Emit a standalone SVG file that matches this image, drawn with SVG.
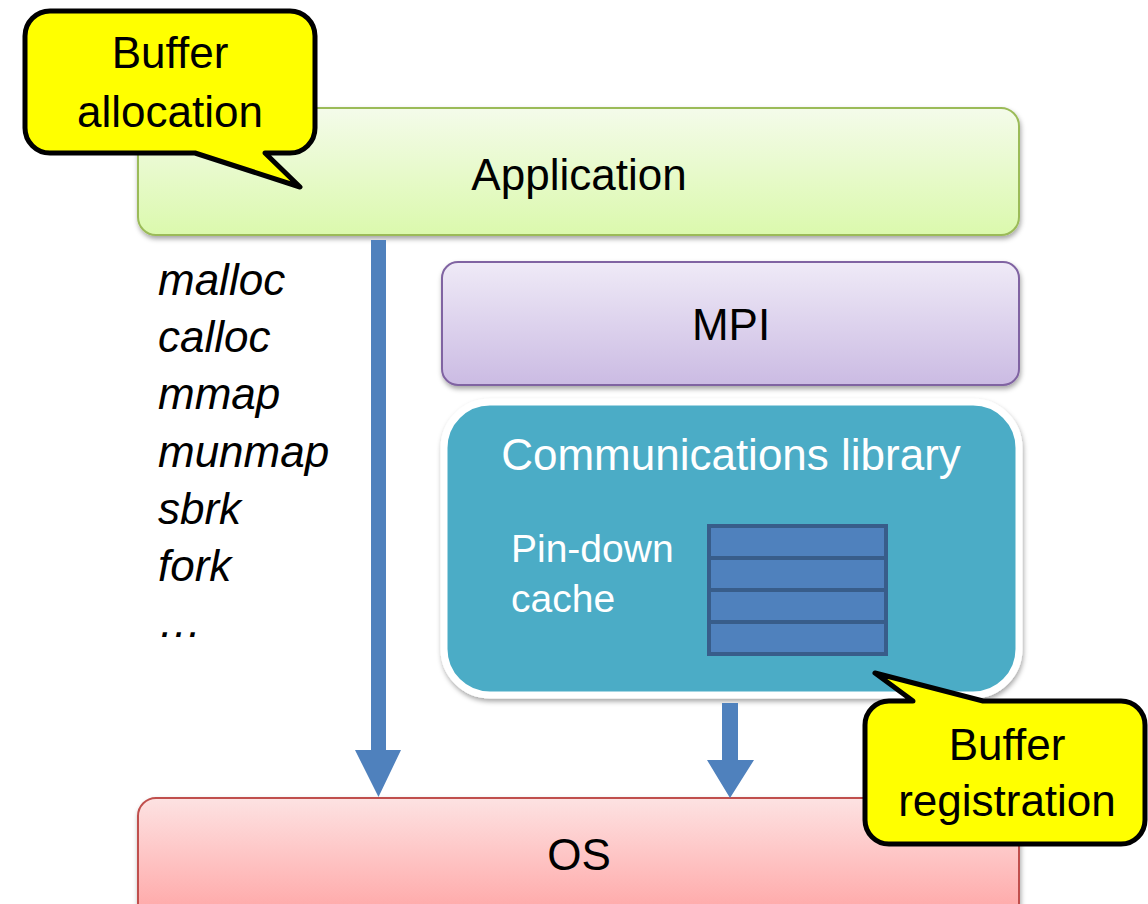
<svg xmlns="http://www.w3.org/2000/svg" width="1148" height="904" viewBox="0 0 1148 904">
<style>
text{font-family:"Liberation Sans",Arial,sans-serif;}
.lbl{font-size:44px;fill:#000;text-anchor:middle;}
.wl{fill:#fff;}
.it{font-size:44px;font-style:italic;fill:#000;}
.callout{fill:#ffff00;stroke:#000;stroke-width:5;stroke-linejoin:round;}
.arrow{fill:#4f81bd;}
.row{fill:#4f81bd;stroke:#385d8a;stroke-width:4;}
</style>
<defs>
<linearGradient id="gApp" x1="0" y1="0" x2="0" y2="1"><stop offset="0" stop-color="#f4fbea"/><stop offset="1" stop-color="#dbf9ad"/></linearGradient>
<linearGradient id="gMpi" x1="0" y1="0" x2="0" y2="1"><stop offset="0" stop-color="#efeaf7"/><stop offset="1" stop-color="#cbbbe3"/></linearGradient>
<linearGradient id="gOs" x1="0" y1="0" x2="0" y2="1"><stop offset="0" stop-color="#fde2e2"/><stop offset="1" stop-color="#ffa3a3"/></linearGradient>
<filter id="sh" x="-5%" y="-10%" width="110%" height="125%"><feDropShadow dx="1" dy="3" stdDeviation="2.5" flood-color="#000" flood-opacity="0.35"/></filter>
</defs>

<g id="application">
<rect x="138" y="108" width="881" height="127" rx="18" fill="url(#gApp)" stroke="#9bbb59" stroke-width="2" filter="url(#sh)"/>
<text class="lbl" x="579" y="190">Application</text>
</g>

<g id="mpi">
<rect x="442" y="262" width="577" height="123" rx="16" fill="url(#gMpi)" stroke="#8064a2" stroke-width="2" filter="url(#sh)"/>
<text class="lbl" x="731" y="340">MPI</text>
</g>

<g id="os">
<rect x="138" y="798" width="881" height="125" rx="18" fill="url(#gOs)" stroke="#c0504d" stroke-width="2" filter="url(#sh)"/>
<text class="lbl" x="579" y="870">OS</text>
</g>

<g id="syscalls">
<text class="it" x="158" y="295">malloc</text>
<text class="it" x="158" y="352">calloc</text>
<text class="it" x="158" y="409">mmap</text>
<text class="it" x="158" y="467">munmap</text>
<text class="it" x="158" y="524">sbrk</text>
<text class="it" x="158" y="581">fork</text>
<text class="it" x="158" y="637">…</text>
</g>

<g id="comm-library">
<rect x="444" y="402" width="575" height="293" rx="46" fill="#4bacc6" stroke="#fff" stroke-width="7" filter="url(#sh)"/>
<text class="lbl wl" x="731" y="470">Communications library</text>
<text class="wl" x="511" y="562" font-size="39">Pin-down</text>
<text class="wl" x="511" y="612" font-size="39">cache</text>
</g>

<g id="pin-down-cache">
<rect class="row" x="709" y="526" width="177" height="32"/>
<rect class="row" x="709" y="558" width="177" height="32"/>
<rect class="row" x="709" y="590" width="177" height="32"/>
<rect class="row" x="709" y="622" width="177" height="32"/>
</g>

<g id="connectors">
<path class="arrow" d="M371 240 H386 V750 H401 L378.5 797 L355 750 H371 Z"/>
<path class="arrow" d="M722 703 H738 V760 H754 L730 798 L707 760 H722 Z"/>
</g>

<g id="callout-allocation">
<path class="callout" d="M50 11 H290 A25 25 0 0 1 315 36 V128 A25 25 0 0 1 290 153 H265 L300 187 L195 153 H50 A25 25 0 0 1 25 128 V36 A25 25 0 0 1 50 11 Z"/>
<text class="lbl" x="170" y="68">Buffer</text>
<text class="lbl" x="170" y="127">allocation</text>
</g>

<g id="callout-registration">
<path class="callout" d="M889 701 H913 L875 673 L983 701 H1121 A24 24 0 0 1 1145 725 V820 A24 24 0 0 1 1121 844 H889 A24 24 0 0 1 865 820 V725 A24 24 0 0 1 889 701 Z"/>
<text class="lbl" x="1007" y="760">Buffer</text>
<text class="lbl" x="1007" y="816">registration</text>
</g>
</svg>
